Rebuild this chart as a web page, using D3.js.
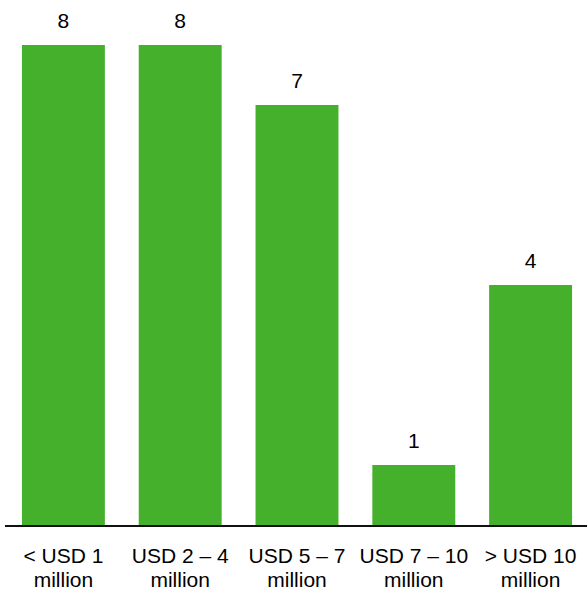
<!DOCTYPE html>
<html>
<head>
<meta charset="utf-8">
<script src="https://cdn.jsdelivr.net/npm/d3@7"></script>
<style>
  body { margin: 0; background: #fff; }
  text { font-family: "Liberation Sans", Arial, sans-serif; fill: #000; }
</style>
</head>
<body>
<script>
// categories and counts
var categories = ["< USD 1 million", "USD 2 – 4 million", "USD 5 – 7 million", "USD 7 – 10 million", "> USD 10 million"];
var labelLine1 = ["< USD 1", "USD 2 – 4", "USD 5 – 7", "USD 7 – 10", "> USD 10"];
var labelLine2 = ["million", "million", "million", "million", "million"];
var counts = [8, 8, 7, 1, 4];

var width = 587, height = 594;
var baseline = 525;

var svg = d3.select("body").append("svg")
  .attr("width", width)
  .attr("height", height);

var x = d3.scaleBand()
  .domain(categories)
  .range([5, 589])
  .paddingInner(0.29)
  .paddingOuter(0.145);

var y = d3.scaleLinear()
  .domain([0, 8])
  .range([baseline, 45]);

// bars
svg.selectAll("rect.bar")
  .data(counts)
  .enter().append("rect")
  .attr("class", "bar")
  .attr("x", function(d, i) { return x(categories[i]); })
  .attr("y", function(d) { return y(d); })
  .attr("width", x.bandwidth())
  .attr("height", function(d) { return baseline - y(d); })
  .attr("fill", "#45b02c");

// value labels
svg.selectAll("text.val")
  .data(counts)
  .enter().append("text")
  .attr("class", "val")
  .attr("x", function(d, i) { return x(categories[i]) + x.bandwidth() / 2; })
  .attr("y", function(d) { return y(d) - 17; })
  .attr("text-anchor", "middle")
  .style("font-size", "21px")
  .text(function(d) { return d; });

// baseline
svg.append("line")
  .attr("x1", 5).attr("x2", 587)
  .attr("y1", baseline + 1).attr("y2", baseline + 1)
  .attr("stroke", "#111")
  .attr("stroke-width", 2);

// category labels, two lines
var lab = svg.selectAll("text.cat")
  .data(categories)
  .enter().append("text")
  .attr("class", "cat")
  .attr("text-anchor", "middle")
  .style("font-size", "21px");

lab.append("tspan")
  .attr("x", function(d) { return x(d) + x.bandwidth() / 2; })
  .attr("y", 563)
  .text(function(d, i) { return labelLine1[i]; });

lab.append("tspan")
  .attr("x", function(d) { return x(d) + x.bandwidth() / 2; })
  .attr("y", 587)
  .text(function(d, i) { return labelLine2[i]; });
</script>
</body>
</html>
